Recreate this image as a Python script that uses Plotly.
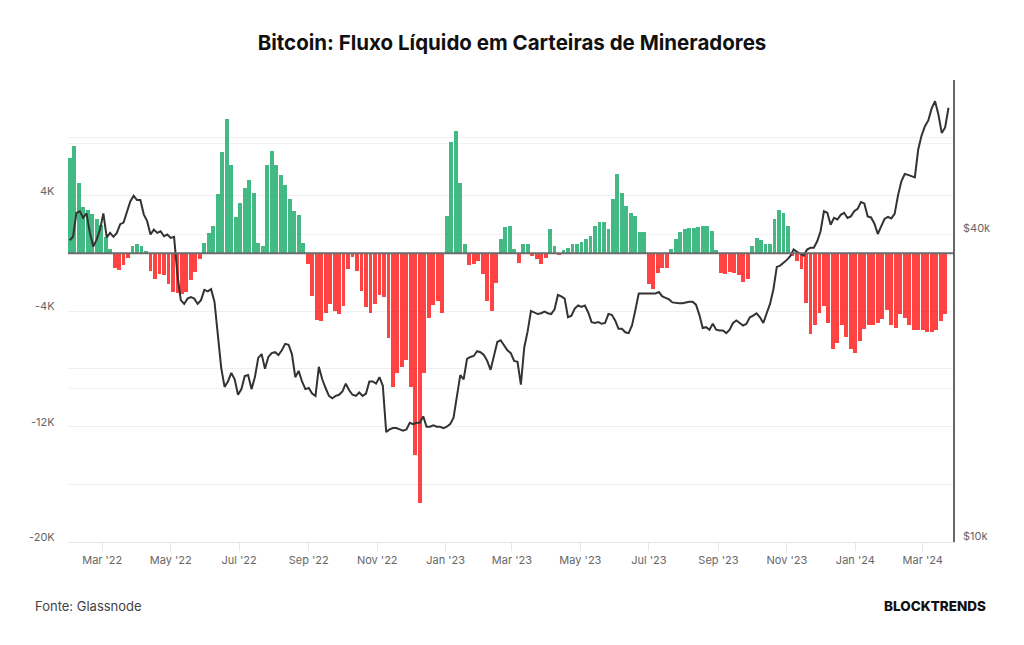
import numpy as np
import pandas as pd
import plotly.graph_objects as go

# Net flow in miner wallets (thousand BTC), one value every 4 days from 2022-01-31
flow_k = [
    6.6, 7.4, 4.9, 3.2, 3.0, 2.7, 2.4, 1.95, 1.16, 0.28,
    -1.0, -1.16, -0.8, -0.35, 0.51, 0.63, 0.47, 0.14, -1.23, -1.8,
    -1.44, -1.5, -2.16, -2.65, -2.74, -2.79, -2.67, -1.86, -1.28, -0.42,
    0.74, 1.37, 1.9, 4.1, 7.0, 9.3, 6.1, 2.5, 3.5, 4.5,
    5.05, 4.2, 0.74, 0.5, 6.1, 7.1, 6.1, 5.4, 4.7, 3.77,
    2.95, 2.67, 0.74, -0.77, -2.98, -4.6, -4.7, -4.14, -3.5, -4.0,
    -4.2, -3.67, -1.1, -0.23, -1.23, -2.6, -3.72, -4.14, -3.5, -2.9,
    -3.0, -5.9, -9.26, -8.3, -7.9, -7.4, -9.26, -14.0, -17.3, -8.3,
    -4.5, -3.56, -3.33, -4.14, 2.6, 7.7, 8.5, 4.9, 0.63, -0.8,
    -0.77, -0.56, -1.47, -3.33, -4.0, -2.05, 0.98, 1.8, 1.9, 0.28,
    -0.65, 0.63, 0.63, -0.2, -0.37, -0.72, -0.3, 1.7, 0.51, -0.14,
    0.21, 0.37, 0.63, 0.63, 0.81, 0.98, 1.2, 1.9, 2.14, 2.14,
    1.67, 3.77, 5.5, 4.2, 3.3, 2.77, 2.6, 1.5, 1.44, -2.16,
    -2.5, -1.4, -1.0, -1.0, 0.28, 0.98, 1.44, 1.7, 1.74, 1.72,
    1.8, 1.9, 1.86, 1.56, 0.2, -1.35, -1.47, -1.3, -1.35, -1.53,
    -2.0, -1.8, 0.51, 1.05, 0.95, 0.63, 0.63, 2.37, 3.0, 2.77,
    1.9, -0.19, -0.53, -1.1, -3.44, -5.6, -5.0, -4.14, -3.67, -4.84,
    -6.6, -6.23, -5.0, -5.77, -6.6, -6.93, -6.1, -5.26, -4.95, -4.95,
    -4.84, -4.56, -3.95, -4.95, -5.19, -4.19, -4.49, -4.95, -5.3, -5.35,
    -5.3, -5.42, -5.47, -5.3, -4.72, -4.19,
]

# Bitcoin price (thousand USD), one value every 3 days from 2022-01-31
price_k = [
    38.9, 39.5, 44.0, 44.3, 43.0, 43.9, 40.2, 37.8, 39.0, 40.8,
    43.9, 39.4, 40.2, 39.5, 40.2, 41.8, 42.1, 44.0, 46.3, 47.5,
    46.6, 46.6, 43.7, 42.4, 39.9, 40.8, 40.2, 40.5, 39.6, 39.9,
    39.3, 39.5, 33.3, 29.7, 29.2, 29.9, 30.1, 29.9, 29.2, 29.7,
    31.1, 30.9, 31.2, 29.5, 25.0, 21.9, 20.1, 20.6, 21.4, 20.8,
    19.4, 19.9, 21.1, 21.2, 19.9, 21.0, 22.9, 23.3, 21.8, 23.0,
    23.4, 23.5, 23.2, 23.7, 24.4, 24.3, 23.3, 21.0, 21.6, 20.6,
    19.9, 20.0, 19.5, 19.3, 22.0, 20.8, 20.0, 19.3, 19.1, 19.3,
    19.4, 19.7, 20.4, 19.8, 19.4, 19.3, 19.6, 19.3, 19.5, 20.6,
    20.6, 20.4, 21.0, 20.2, 16.4, 16.6, 16.7, 16.7, 16.6, 16.5,
    16.6, 17.1, 17.0, 17.1, 17.1, 17.6, 16.8, 16.8, 16.9, 16.8,
    16.8, 16.7, 16.8, 17.0, 17.5, 19.1, 21.2, 20.8, 22.8, 23.0,
    23.1, 23.6, 23.5, 23.2, 22.6, 21.7, 23.2, 24.6, 24.8, 24.2,
    23.7, 23.4, 22.6, 22.5, 20.3, 24.0, 25.8, 28.3, 28.1, 27.9,
    28.0, 28.2, 28.0, 27.9, 28.5, 30.4, 30.2, 29.9, 27.5, 27.7,
    28.6, 29.0, 28.8, 29.0, 28.1, 26.9, 26.8, 26.9, 26.7, 26.8,
    27.9, 27.8, 27.1, 26.1, 26.1, 25.7, 25.6, 26.5, 28.4, 30.6,
    30.6, 30.6, 30.6, 30.6, 30.6, 30.8, 30.2, 30.0, 29.8, 29.4,
    29.3, 29.3, 29.3, 29.4, 29.5, 29.5, 29.1, 27.8, 26.2, 26.3,
    26.0, 26.7, 26.0, 25.9, 25.9, 25.6, 26.0, 26.8, 27.1, 26.8,
    26.5, 26.7, 27.5, 27.7, 28.0, 27.5, 26.8, 28.0, 29.2, 31.2,
    34.5, 34.7, 35.1, 35.6, 36.2, 37.3, 36.9, 36.6, 36.3, 37.3,
    37.6, 37.6, 38.7, 40.5, 44.3, 44.0, 41.7, 43.0, 42.7, 43.6,
    44.0, 43.0, 43.3, 44.3, 44.8, 46.2, 45.9, 43.3, 43.1, 41.9,
    40.0, 41.4, 42.8, 43.2, 42.9, 43.8, 47.6, 50.7, 52.4, 52.2,
    51.9, 51.6, 58.5, 62.3, 65.0, 66.7, 70.4, 72.7, 68.5, 63.0,
    64.6, 70.6,
]

x_tick_dates = ['2022-03-01', '2022-05-01', '2022-07-01', '2022-09-01', '2022-11-01',
                '2023-01-01', '2023-03-01', '2023-05-01', '2023-07-01', '2023-09-01',
                '2023-11-01', '2024-01-01', '2024-03-01']
x_tick_text = ["Mar '22", "May '22", "Jul '22", "Sep '22", "Nov '22", "Jan '23", "Mar '23",
               "May '23", "Jul '23", "Sep '23", "Nov '23", "Jan '24", "Mar '24"]
left_tick_vals = [4, -4, -12, -20]
left_tick_text = ['4K', '-4K', '-12K', '-20K']
right_tick_vals = [10, 40]
right_tick_text = ['$10k', '$40k']

flow_dates = pd.date_range('2022-01-31', periods=len(flow_k), freq='4D')
price_dates = pd.date_range('2022-01-31', periods=len(price_k), freq='3D')

GREEN = 'rgba(20,168,100,0.80)'
RED = 'rgba(255,20,20,0.80)'
bar_colors = [GREEN if v >= 0 else RED for v in flow_k]

fig = go.Figure()
fig.add_trace(go.Bar(
    x=flow_dates, y=flow_k, marker=dict(color=bar_colors, line=dict(width=0)),
    width=4 * 86400000 * 0.86, yaxis='y', showlegend=False, hoverinfo='skip'))
fig.add_trace(go.Scatter(
    x=price_dates, y=price_k, mode='lines', line=dict(color='#333333', width=2),
    yaxis='y2', showlegend=False))

fig.add_shape(type='line', xref='paper', yref='y', x0=0, x1=1, y0=0, y1=0,
              line=dict(color='#6b6b6b', width=2), layer='above')

font_fam = 'Inter, Roboto, Arial, sans-serif'

annotations = []
for v, t in zip(left_tick_vals, left_tick_text):
    annotations.append(dict(x=0, xref='paper', y=v, yref='y', text=t, showarrow=False,
                            xanchor='right', yanchor='middle', xshift=-11, yshift=5,
                            font=dict(family=font_fam, size=11, color='#666666')))
for v, t in zip(right_tick_vals, right_tick_text):
    annotations.append(dict(x=1, xref='paper', y=np.log10(v), yref='y2', text=t, showarrow=False,
                            xanchor='left', yanchor='middle', xshift=8, yshift=6,
                            font=dict(family=font_fam, size=11, color='#666666')))
annotations.append(dict(x=-0.0395, xref='paper', y=-0.1385, yref='paper', text='Fonte: Glassnode',
                        showarrow=False, xanchor='left', yanchor='middle',
                        font=dict(family=font_fam, size=13, color='#444444')))
annotations.append(dict(x=1.0395, xref='paper', y=-0.1385, yref='paper', text='BLOCKTRENDS',
                        showarrow=False, xanchor='right', yanchor='middle',
                        font=dict(family=font_fam, size=13.5, color='#111111', weight=800)))

fig.update_layout(
    width=1024, height=645,
    margin=dict(l=68, r=71, t=80, b=103),
    paper_bgcolor='white', plot_bgcolor='white',
    bargap=0,
    title=dict(text='<b>Bitcoin: Fluxo Líquido em Carteiras de Mineradores</b>',
               x=0.5, xref='container', xanchor='center',
               y=1 - 43 / 645, yref='container', yanchor='middle',
               font=dict(family=font_fam, size=20.5, color='#111111')),
    xaxis=dict(range=['2022-01-29 12:00', '2024-03-28'], tickvals=x_tick_dates, ticktext=x_tick_text,
               showgrid=False, showline=True, linecolor='#e6e6e6', linewidth=1,
               ticks='outside', ticklen=8, tickcolor='#e6e6e6',
               tickfont=dict(family=font_fam, size=11, color='#666666'), zeroline=False),
    yaxis=dict(range=[-20, 12], tickvals=list(range(-20, 13, 4)), showticklabels=False,
               showgrid=True, gridcolor='#efefef', gridwidth=1, zeroline=False, fixedrange=True),
    yaxis2=dict(type='log', overlaying='y', side='right', range=[1, np.log10(80)],
                tickvals=[10, 20, 40, 60, 80], showticklabels=False,
                showgrid=True, gridcolor='#f2f2f2', gridwidth=1,
                showline=True, linecolor='#666666', linewidth=2, zeroline=False),
    annotations=annotations,
)

fig.write_html('out.html')
